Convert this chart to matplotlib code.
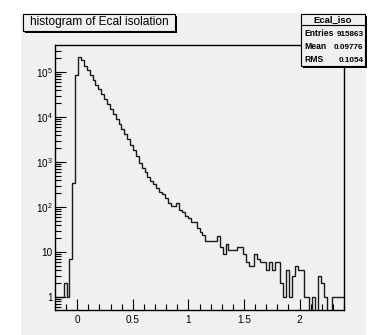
import matplotlib
matplotlib.use('Agg')
import matplotlib.pyplot as plt
import numpy as np
from matplotlib.patches import Rectangle
from matplotlib.lines import Line2D
from matplotlib.ticker import MultipleLocator, LogLocator, FuncFormatter, NullFormatter

# histogram contents, 100 bins from -0.2 to 2.4
counts = np.array([
    1, 1, 1, 2, 1, 7, 345, 86000, 220000, 186000,
    138000, 110000, 85000, 66000, 51000, 42000, 32000, 25000, 19500, 15000,
    11700, 9100, 7000, 5400, 4200, 3200, 2400, 1850, 1350, 950,
    740, 600, 465, 380, 325, 265, 220, 190, 158, 122,
    105, 105, 120, 86, 79, 63, 57, 47, 47, 34,
    28, 24, 18, 18, 18, 18, 23, 13, 9, 15,
    11, 11, 11, 13, 13, 9, 6, 5, 5, 9,
    7, 6, 6, 4, 6, 4, 6, 6, 2, 1,
    4, 1, 3, 5, 4, 4, 1, 1, 0, 1,
    0, 3, 2, 1, 0, 0, 1, 1, 1, 1,
], dtype=float)
x_min, x_max = -0.2, 2.4
edges = np.linspace(x_min, x_max, len(counts) + 1)

title = 'histogram of Ecal isolation'
stats_name = 'Ecal_iso'
stats_labels = ['Entries', 'Mean', 'RMS']
stats_values = ['915863', '0.09776', '0.1054']

GREY = '#f0f0f0'
W, H = 378, 335
FONT = ['Liberation Sans', 'DejaVu Sans']
NARROW = ['Liberation Sans Narrow', 'Liberation Sans', 'DejaVu Sans']

plt.rcParams['font.family'] = FONT
plt.rcParams['mathtext.fontset'] = 'custom'
plt.rcParams['mathtext.rm'] = 'Liberation Sans'
plt.rcParams['mathtext.it'] = 'Liberation Sans'


def fx(px):
    return px / W


def fy(py):
    return 1 - py / H


fig = plt.figure(figsize=(W / 100, H / 100), dpi=100)
fig.patch.set_facecolor('white')
fig.patches.append(Rectangle((fx(21), 0), fx(366) - fx(21), fy(13), transform=fig.transFigure,
                             facecolor=GREY, edgecolor='none', zorder=-1))

ax = fig.add_axes([fx(55), fy(310), fx(344) - fx(55), fy(45) - fy(310)])
ax.set_facecolor(GREY)
ax.stairs(np.where(counts > 0, counts, 1e-3), edges, baseline=None, color='#1a1a1a', lw=1.0)
ax.set_yscale('log')
ax.set_xlim(x_min, x_max)
ax.set_ylim(0.514, 3.98e5)

ax.xaxis.set_major_locator(MultipleLocator(0.5))
ax.xaxis.set_minor_locator(MultipleLocator(0.1))
ax.xaxis.set_major_formatter(FuncFormatter(lambda v, p: '%g' % v))
ax.yaxis.set_major_locator(LogLocator(base=10))
ax.yaxis.set_minor_locator(LogLocator(base=10, subs=np.arange(2, 10)))
ax.yaxis.set_minor_formatter(NullFormatter())


def ylab(v, p):
    k = int(round(np.log10(v)))
    if k == 0:
        return '1'
    if k == 1:
        return '10'
    return '$10^{%d}$' % k


ax.yaxis.set_major_formatter(FuncFormatter(ylab))
ax.tick_params(which='both', direction='in', top=False, right=False, width=0.8, labelsize=7.2)
ax.tick_params(which='major', length=8)
ax.tick_params(which='minor', length=4)
ax.tick_params(axis='x', pad=3.5)
ax.tick_params(axis='y', pad=1.5)
for s in ax.spines.values():
    s.set_linewidth(1.0)
    s.set_color('black')


def shadow_box(x0, y0, x1, y1):
    fig.patches.append(Rectangle((fx(x0 + 2), fy(y1 + 2)), fx(x1) - fx(x0), fy(y0) - fy(y1),
                                 transform=fig.transFigure, facecolor='black', edgecolor='none', zorder=4))
    fig.patches.append(Rectangle((fx(x0), fy(y1)), fx(x1) - fx(x0), fy(y0) - fy(y1),
                                 transform=fig.transFigure, facecolor=GREY, edgecolor='black', lw=0.8, zorder=5))


# title box
shadow_box(23, 14, 175, 31)
fig.text(fx(99), fy(22.5), title, ha='center', va='center', fontsize=8.6, zorder=6)

# stats box
shadow_box(301, 14, 365, 66)
fig.lines.append(Line2D([fx(301), fx(365)], [fy(24.5), fy(24.5)], transform=fig.transFigure,
                        color='black', lw=0.8, zorder=6))
fig.text(fx(333), fy(22.3), stats_name, ha='center', va='baseline', fontsize=6.8, fontweight='bold',
         family=NARROW, zorder=6)
for i, (lab, val) in enumerate(zip(stats_labels, stats_values)):
    yy = fy(35.6 + 13.3 * i)
    fig.text(fx(304), yy, lab, ha='left', va='baseline', fontsize=6.2, fontweight='bold',
             family=NARROW, zorder=6)
    fig.text(fx(363.5), yy, val, ha='right', va='baseline', fontsize=5.9, fontweight='bold',
             family=NARROW, zorder=6)

fig.savefig('out.png', dpi=100, facecolor='white')
